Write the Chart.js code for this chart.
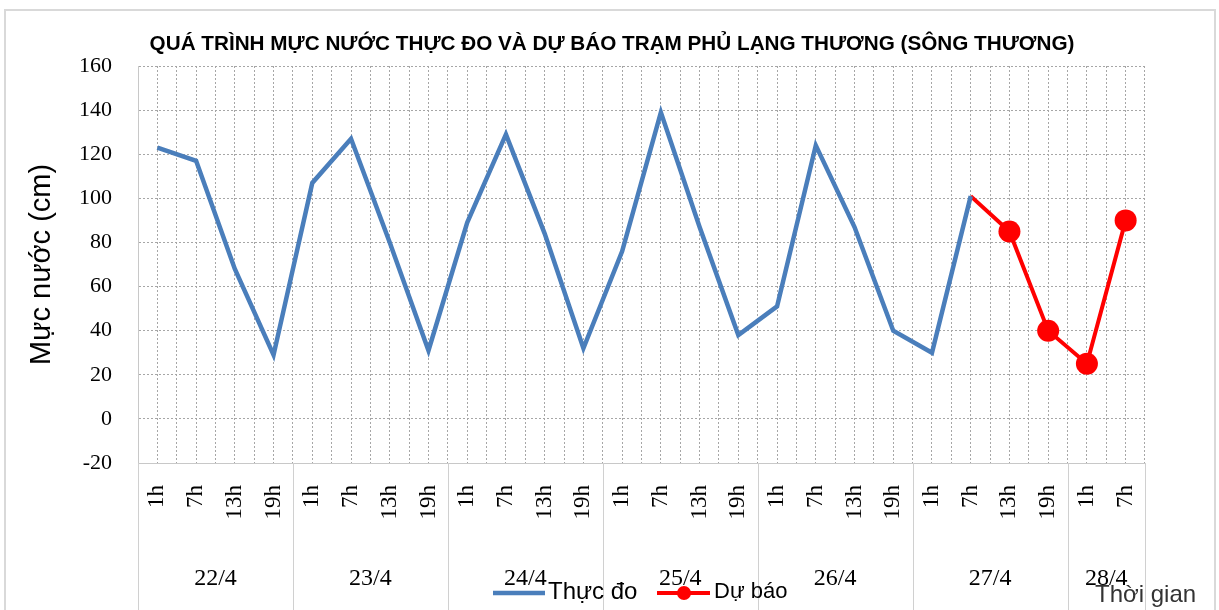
<!DOCTYPE html>
<html>
<head>
<meta charset="utf-8">
<script src="https://cdn.jsdelivr.net/npm/chart.js@4/dist/chart.umd.min.js"></script>
<style>
  html, body { margin: 0; padding: 0; background: #fff; }
  #myChart { display: block; }
</style>
</head>
<body>
<canvas id="myChart" width="1219" height="610"></canvas>
<script>
// du lieu muc nuoc
const hourLabels = ["1h","7h","13h","19h","1h","7h","13h","19h","1h","7h","13h","19h","1h","7h","13h","19h",
                    "1h","7h","13h","19h","1h","7h","13h","19h","1h","7h"];
const dayLabels = ["22/4","23/4","24/4","25/4","26/4","27/4","28/4"];
const daySizes = [4,4,4,4,4,4,2];
const thucDo = [123,117,68,29,107,127,80,31,89,129,84,32,76,139,87,38,51,124,87,40,30,101,null,null,null,null];
const duBao = [null,null,null,null,null,null,null,null,null,null,null,null,null,null,null,null,null,null,null,null,null,101,85,40,25,90];
const yTicks = { min: -20, max: 160, step: 20 };
const tieuDe = "QUÁ TRÌNH MỰC NƯỚC THỰC ĐO VÀ DỰ BÁO TRẠM PHỦ LẠNG THƯƠNG (SÔNG THƯƠNG)";

const serif = "'Liberation Serif', serif";
const sans = "'Liberation Sans', sans-serif";

// nen trang + khung ngoai + tieu de
const khungPlugin = {
    id: "khung",
    beforeDraw(chart) {
        let c = chart.ctx;
        c.save();
        c.fillStyle = "#fff";
        c.fillRect(0, 0, chart.width, chart.height);
        c.strokeStyle = "#d9d9d9";
        c.lineWidth = 2;
        c.strokeRect(5, 10, 1210, 620);
        c.fillStyle = "#000";
        c.font = "bold 20.7px " + sans;
        c.textAlign = "center";
        c.textBaseline = "middle";
        c.fillText(tieuDe, 612, 44);
        c.restore();
    }
};

// nhan ngay, vach phan cach, chu giai
const ngayPlugin = {
    id: "ngay",
    afterDraw(chart) {
        let c = chart.ctx;
        let x = chart.scales.x;
        let area = chart.chartArea;
        let bound = i => {
            if (i <= 0) return area.left;
            if (i >= hourLabels.length) return area.right;
            return (x.getPixelForValue(i - 1) + x.getPixelForValue(i)) / 2;
        };
        c.save();
        c.strokeStyle = "#d0d0d0";
        c.lineWidth = 1;
        let start = 0;
        let edges = [0];
        daySizes.forEach(n => { start += n; edges.push(start); });
        edges.forEach(i => {
            let px = Math.round(bound(i)) + 0.5;
            c.beginPath();
            c.moveTo(px, area.bottom);
            c.lineTo(px, chart.height);
            c.stroke();
        });
        c.fillStyle = "#000";
        c.font = "24px " + serif;
        c.textAlign = "center";
        c.textBaseline = "middle";
        dayLabels.forEach((d, k) => {
            let cx = (bound(edges[k]) + bound(edges[k + 1])) / 2;
            c.fillText(d, cx, 579);
        });

        // chu giai
        let ds = chart.data.datasets;
        c.lineWidth = ds[0].borderWidth;
        c.strokeStyle = ds[0].borderColor;
        c.beginPath(); c.moveTo(493, 593); c.lineTo(545, 593); c.stroke();
        c.textAlign = "left";
        c.font = "24px " + sans;
        c.fillText(ds[0].label, 548, 592);
        c.lineWidth = ds[1].borderWidth;
        c.strokeStyle = ds[1].borderColor;
        c.beginPath(); c.moveTo(657, 593); c.lineTo(710, 593); c.stroke();
        c.fillStyle = ds[1].borderColor;
        c.beginPath(); c.arc(684, 593, 7, 0, Math.PI * 2); c.fill();
        c.fillStyle = "#000";
        c.font = "22px " + sans;
        c.fillText(ds[1].label, 714, 592);

        c.fillStyle = "#333";
        c.font = "24px " + sans;
        c.fillText("Thời gian", 1095, 595);
        c.restore();
    }
};

const firstDuBao = duBao.findIndex(v => v !== null);

const config = {
    type: "line",
    data: {
        labels: hourLabels,
        datasets: [
            {
                label: "Thực đo",
                data: thucDo,
                borderColor: "#4a7ebb",
                backgroundColor: "#4a7ebb",
                borderWidth: 4.5,
                pointRadius: 0,
                tension: 0
            },
            {
                label: "Dự báo",
                data: duBao,
                borderColor: "#ff0000",
                backgroundColor: "#ff0000",
                borderWidth: 4,
                pointRadius: ctx => ctx.dataIndex === firstDuBao ? 0 : 11,
                pointBorderWidth: 0,
                pointBackgroundColor: "#ff0000",
                tension: 0
            }
        ]
    },
    options: {
        responsive: false,
        animation: false,
        layout: { padding: { left: 8, right: 74, top: 66, bottom: 0 } },
        plugins: {
            legend: { display: false },
            tooltip: { enabled: false },
            title: { display: false }
        },
        scales: {
            x: {
                type: "category",
                offset: true,
                grid: { offset: false, color: "#a6a6a6", drawTicks: false },
                border: { display: true, color: "#c8c8c8", width: 1, dash: [2, 2] },
                ticks: {
                    autoSkip: false, maxRotation: 90, minRotation: 90,
                    padding: 22, color: "#000",
                    font: { family: serif, size: 23 }
                },
                afterFit(scale) { scale.height = 147; }
            },
            x2: {
                type: "category",
                position: "top",
                offset: true,
                grid: { offset: true, color: "#a6a6a6", drawTicks: false },
                border: { display: false, dash: [2, 2] },
                ticks: { display: false },
                afterFit(scale) { scale.height = 0; }
            },
            y: {
                min: yTicks.min,
                max: yTicks.max,
                ticks: {
                    stepSize: yTicks.step, padding: 26, color: "#000",
                    font: { family: serif, size: 22 }
                },
                grid: { color: "#a6a6a6", drawTicks: false },
                border: { display: true, color: "#c8c8c8", width: 1, dash: [2, 2] },
                title: {
                    display: true,
                    text: "Mực nước (cm)",
                    color: "#000",
                    font: { family: sans, size: 29 },
                    padding: { top: 17, bottom: 0 }
                },
                afterFit(scale) { scale.width = 130; }
            }
        }
    },
    plugins: [khungPlugin, ngayPlugin]
};

window.onload = (function () {
    const myChart = new Chart(document.getElementById("myChart"), config);
});
</script>
</body>
</html>
